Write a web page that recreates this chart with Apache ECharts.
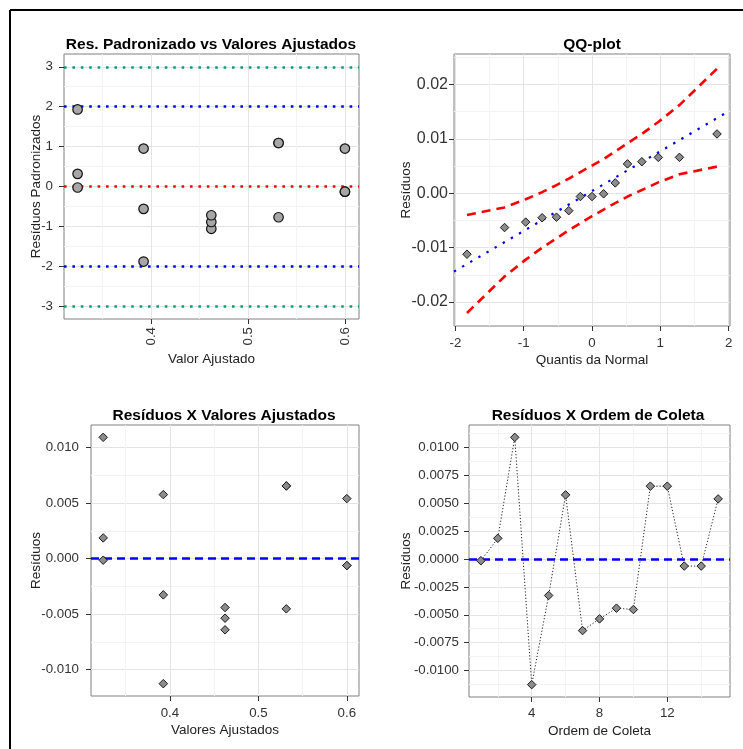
<!DOCTYPE html>
<html><head><meta charset="utf-8">
<script src="https://cdn.jsdelivr.net/npm/echarts@6/dist/echarts.min.js"></script>
<style>html,body{margin:0;padding:0;background:#fff}#c{width:743px;height:749px}</style>
</head><body><div id="c"></div>
<script>
// ---------------- data ----------------
const order = [1,2,3,4,5,6,7,8,9,10,11,12,13,14,15];
const fitted = [0.3245,0.3245,0.3245,0.3925,0.3925,0.3925,0.4623,0.4623,0.4623,0.5316,0.5316,0.5316,0.600,0.600,0.600];
const residuals = [-0.00015,0.00186,0.01092,-0.01127,-0.00327,0.00576,-0.00642,-0.00537,-0.00441,-0.00453,0.00654,0.00654,-0.00063,-0.00063,0.0054];
const stdResiduals = [-0.025,0.317,1.93,-1.88,-0.56,0.95,-1.06,-0.89,-0.72,-0.77,1.09,1.09,-0.13,-0.13,0.95];

const qqTheoretical = [-1.83,-1.28,-0.97,-0.73,-0.52,-0.34,-0.17,0,0.17,0.34,0.52,0.73,0.97,1.28,1.83];
const qqSample = [-0.0112,-0.0063,-0.0053,-0.0045,-0.0044,-0.0032,-0.0006,-0.0006,-0.0001,0.0019,0.0054,0.0058,0.0066,0.0066,0.0109];
const qqUpper = [-0.0040,-0.0026,-0.0011,0.0002,0.0015,0.0027,0.0039,0.0051,0.0063,0.0077,0.0092,0.0109,0.0131,0.0162,0.0229];
const qqLower = [-0.0220,-0.0153,-0.0122,-0.0100,-0.0083,-0.0068,-0.0055,-0.0042,-0.0030,-0.0018,-0.0006,0.0006,0.0020,0.0035,0.0049];
const qqLineX = [-2.02, 2.02];
const qqLineY = [-0.0144, 0.0152];

const stdRefGreen = [3,-3];
const stdRefBlue = [2,-2];
const stdRefRed = [0];
const residRef = [0];

// tick values
const tlXTicks = [0.4,0.5,0.6], tlXMinor = [0.35,0.45,0.55];
const tlYTicks = [-3,-2,-1,0,1,2,3], tlYMinor = [-2.5,-1.5,-0.5,0.5,1.5,2.5];
const trXTicks = [-2,-1,0,1,2], trXMinor = [-1.5,-0.5,0.5,1.5];
const trYTicks = [-0.02,-0.01,0,0.01,0.02], trYMinor = [-0.015,-0.005,0.005,0.015,0.025];
const blXTicks = [0.4,0.5,0.6], blXMinor = [0.35,0.45,0.55];
const blYTicks = [-0.01,-0.005,0,0.005,0.01], blYMinor = [-0.0075,-0.0025,0.0025,0.0075];
const brXTicks = [4,8,12], brXMinor = [2,6,10,14];
const brYTicks = [-0.01,-0.0075,-0.005,-0.0025,0,0.0025,0.005,0.0075,0.01];
const brYMinor = [-0.01125,-0.00875,-0.00625,-0.00375,-0.00125,0.00125,0.00375,0.00625,0.00875,0.01125];

// ---------------- chart ----------------
const FONT = '"Liberation Sans", Arial, sans-serif';
const zip = (a,b) => a.map((v,i)=>[v,b[i]]);

function axes(g, dim, min, max, ticks, minors, fmt, o) {
  const major = {
    type:'value', gridIndex:g, min:min, max:max,
    position: dim==='x' ? 'bottom' : 'left',
    axisLine:{show:false, onZero:false},
    axisTick:{show:true, inside:false, length:5, lineStyle:{color:'#333', width:1}, customValues:ticks},
    axisLabel:{customValues:ticks, formatter:fmt, fontSize:o.fs||13.3, color:'#333', margin:o.margin, fontFamily:FONT, rotate:o.rotate||0},
    splitLine:{show:true, lineStyle:{color:'#e4e4e4', width:1}},
    name:o.name, nameLocation:'middle', nameGap:o.gap, nameMoveOverlap:false,
    nameTextStyle:{fontSize:13.5, color:'#222', fontFamily:FONT}
  };
  const minor = {
    type:'value', gridIndex:g, min:min, max:max,
    position: dim==='x' ? 'top' : 'right',
    axisLine:{show:false, onZero:false}, axisTick:{show:false, customValues:minors}, axisLabel:{show:false},
    splitLine:{show:true, lineStyle:{color:'#f3f3f3', width:1}}
  };
  return [major, minor];
}

const xAxis = [
  ...axes(0,'x',0.3105,0.6145,tlXTicks,tlXMinor,v=>v.toFixed(1),{name:'Valor Ajustado',gap:33,margin:8,rotate:90}),
  ...axes(1,'x',-2.02,2.02,trXTicks,trXMinor,v=>String(v),{name:'Quantis da Normal',gap:27.5,margin:11}),
  ...axes(2,'x',0.3107,0.6138,blXTicks,blXMinor,v=>v.toFixed(1),{name:'Valores Ajustados',gap:27.5,margin:11}),
  ...axes(3,'x',0.3,15.7,brXTicks,brXMinor,v=>String(v),{name:'Ordem de Coleta',gap:27,margin:10})
];
const yAxis = [
  ...axes(0,'y',-3.32,3.32,tlYTicks,tlYMinor,v=>String(v),{name:'Resíduos Padronizados',gap:21,margin:11}),
  ...axes(1,'y',-0.0244,0.0256,trYTicks,trYMinor,v=>v.toFixed(2),{name:'Resíduos',gap:41,margin:6,fs:16}),
  ...axes(2,'y',-0.01238,0.01203,blYTicks,blYMinor,v=>v.toFixed(3),{name:'Resíduos',gap:48,margin:12}),
  ...axes(3,'y',-0.01238,0.01203,brYTicks,brYMinor,v=>v.toFixed(4),{name:'Resíduos',gap:56,margin:10})
];

function refLines(values, color, width, dash) {
  return values.map(v => ({yAxis:v, lineStyle:{color:color, width:width, type:dash}}));
}

const diamond = {symbol:'diamond', symbolSize:8.5, itemStyle:{color:'#8c8c8c', borderColor:'#1a1a1a', borderWidth:1, opacity:1}};

const series = [
  // top-left reference lines
  {type:'scatter', xAxisIndex:0, yAxisIndex:0, data:[], silent:true, z:1,
   markLine:{silent:true, symbol:'none', z:1, label:{show:false}, animation:false,
     data:[...refLines(stdRefGreen,'#0a9e6e',2.6,[2.6,5.8]), ...refLines(stdRefBlue,'#0000ff',2.6,[2.6,5.8]), ...refLines(stdRefRed,'#ff0000',2.6,[2.6,5.8])]}},
  {type:'scatter', xAxisIndex:0, yAxisIndex:0, z:3, data:zip(fitted,stdResiduals),
   symbol:'circle', symbolSize:9.5, itemStyle:{color:'#a6a6a6', borderColor:'#111', borderWidth:1.2, opacity:1}},
  // QQ plot
  {type:'line', xAxisIndex:2, yAxisIndex:2, data:zip(qqLineX,qqLineY), showSymbol:false, z:2,
   lineStyle:{color:'#0000ff', width:2.2, type:[2.4,7]}},
  {type:'line', xAxisIndex:2, yAxisIndex:2, data:zip(qqTheoretical,qqUpper), showSymbol:false, z:2,
   lineStyle:{color:'#ff0000', width:2.6, type:[9,6]}},
  {type:'line', xAxisIndex:2, yAxisIndex:2, data:zip(qqTheoretical,qqLower), showSymbol:false, z:2,
   lineStyle:{color:'#ff0000', width:2.6, type:[9,6]}},
  Object.assign({type:'scatter', xAxisIndex:2, yAxisIndex:2, z:3, data:zip(qqTheoretical,qqSample)}, diamond),
  // bottom-left
  {type:'scatter', xAxisIndex:4, yAxisIndex:4, data:[], silent:true, z:1,
   markLine:{silent:true, symbol:'none', z:1, label:{show:false}, animation:false,
     data:refLines(residRef,'#0000ff',2.6,[8,5])}},
  Object.assign({type:'scatter', xAxisIndex:4, yAxisIndex:4, z:3, data:zip(fitted,residuals)}, diamond),
  // bottom-right
  {type:'scatter', xAxisIndex:6, yAxisIndex:6, data:[], silent:true, z:1,
   markLine:{silent:true, symbol:'none', z:1, label:{show:false}, animation:false,
     data:refLines(residRef,'#0000ff',2.6,[8,5])}},
  Object.assign({type:'line', xAxisIndex:6, yAxisIndex:6, z:3, data:zip(order,residuals), showSymbol:true,
   lineStyle:{color:'#222', width:1, type:[1.2,2]}}, diamond)
];

const titleStyle = {fontSize:15.5, fontWeight:'bold', color:'#000', fontFamily:FONT};
const gridBase = {show:true, borderColor:'#808080', borderWidth:1, backgroundColor:'transparent', containLabel:false, outerBoundsMode:'none'};
const option = {
  animation:false,
  backgroundColor:'#fff',
  title:[
    {text:'Res. Padronizado vs Valores Ajustados', left:211, top:37, textAlign:'center', padding:0, textStyle:titleStyle},
    {text:'QQ-plot', left:592, top:37, textAlign:'center', padding:0, textStyle:titleStyle},
    {text:'Resíduos X Valores Ajustados', left:224, top:408, textAlign:'center', padding:0, textStyle:titleStyle},
    {text:'Resíduos X Ordem de Coleta', left:598, top:408, textAlign:'center', padding:0, textStyle:titleStyle}
  ],
  grid:[
    Object.assign({left:64, top:54, width:295, height:265}, gridBase),
    Object.assign({left:454, top:54, width:276, height:272}, gridBase),
    Object.assign({left:91, top:425, width:268, height:271}, gridBase),
    Object.assign({left:469, top:425, width:261, height:272}, gridBase)
  ],
  xAxis:xAxis,
  yAxis:yAxis,
  series:series,
  graphic:[
    {type:'line', shape:{x1:10, y1:10, x2:743, y2:10}, style:{stroke:'#000', lineWidth:2}, z:10},
    {type:'line', shape:{x1:10, y1:10, x2:10, y2:749}, style:{stroke:'#000', lineWidth:2}, z:10}
  ]
};
const chart = echarts.init(document.getElementById('c'), null, {renderer:'canvas'});
chart.setOption(option);
</script>
</body></html>
